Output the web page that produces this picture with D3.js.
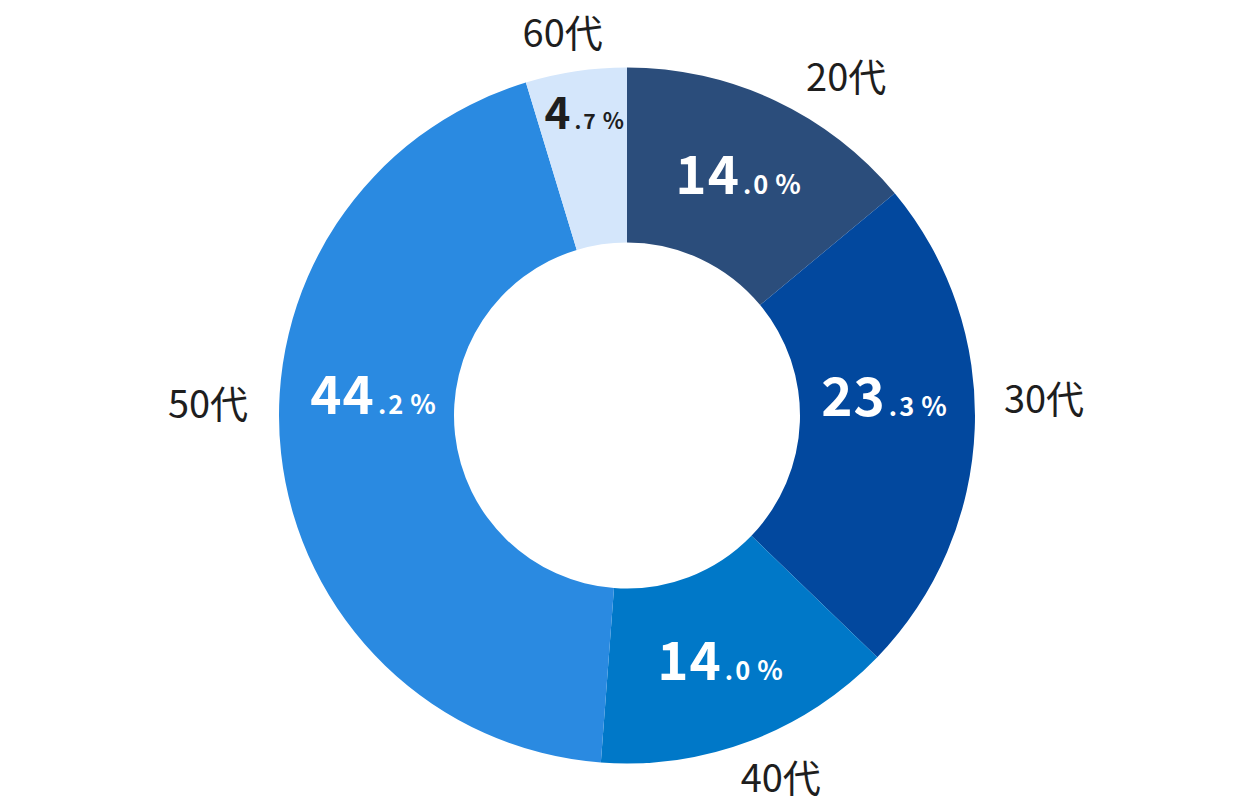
<!DOCTYPE html>
<html><head><meta charset="utf-8">
<script src="https://cdn.jsdelivr.net/npm/d3@7"></script>
<style>html,body{margin:0;padding:0;background:#fff;}svg{display:block;}</style>
</head><body>
<script>
// Data
const categories = ["20代", "30代", "40代", "50代", "60代"];
const values = [14.0, 23.3, 14.0, 44.2, 4.7];
const intParts = ["14", "23", "14", "44", "4"];
const decParts = [".0", ".3", ".0", ".2", ".7"];

// Styles / layout (separate from data)
const colors = ["#2b4d7b", "#02489e", "#0078c8", "#2a8ae1", "#d4e6fb"];
const pctColors = ["#ffffff", "#ffffff", "#ffffff", "#ffffff", "#1e1e1e"];
const pctSizes = [53, 53, 53, 53, 44];
// label anchor positions in polar form (deg clockwise from top, radius)
const pctPolar = [[26.6, 248], [90, 257], [160.6, 280], [270.4, 254], [351.5, 290]];
const catPolar = [[34.0, 392], [89.7, 417], [157.8, 407], [269.7, 419], [350.1, 374]];

const W = 1254, H = 804, cx = 627, cy = 415.5, R = 348, r0 = 173;
const svg = d3.select("body").append("svg").attr("width", W).attr("height", H);
const g = svg.append("g").attr("transform", `translate(${cx},${cy})`);

const pie = d3.pie().sort(null).value(d => d)(values);
const arc = d3.arc().innerRadius(r0).outerRadius(R);

g.selectAll("path.slice").data(pie).enter().append("path")
  .attr("class", "slice").attr("d", arc).attr("fill", (d, i) => colors[i]);

const pol = ([a, rr]) => {
  const t = a * Math.PI / 180;
  return [rr * Math.sin(t), -rr * Math.cos(t)];
};

const font = "'Noto Sans CJK JP','Noto Sans',sans-serif";

const pct = g.selectAll("text.pct").data(pie).enter().append("text")
  .attr("class", "pct")
  .attr("x", (d, i) => pol(pctPolar[i])[0])
  .attr("y", (d, i) => pol(pctPolar[i])[1])
  .attr("text-anchor", "middle")
  .attr("font-family", font).attr("font-weight", 700)
  .attr("fill", (d, i) => pctColors[i]);
pct.append("tspan").text((d, i) => intParts[i]).attr("font-size", (d, i) => pctSizes[i]).attr("letter-spacing", 1);
pct.append("tspan").text((d, i) => decParts[i]).attr("font-size", (d, i) => pctSizes[i] * 0.48).attr("dx", 3).attr("letter-spacing", 2);
pct.append("tspan").text("%").attr("font-size", (d, i) => pctSizes[i] * 0.5).attr("dx", 5);

g.selectAll("text.cat").data(categories).enter().append("text")
  .attr("class", "cat")
  .attr("x", (d, i) => pol(catPolar[i])[0])
  .attr("y", (d, i) => pol(catPolar[i])[1])
  .attr("text-anchor", "middle")
  .attr("font-family", font).attr("font-weight", 400)
  .attr("font-size", 38)
  .attr("fill", "#1e1e1e")
  .text(d => d);
</script>
</body></html>
